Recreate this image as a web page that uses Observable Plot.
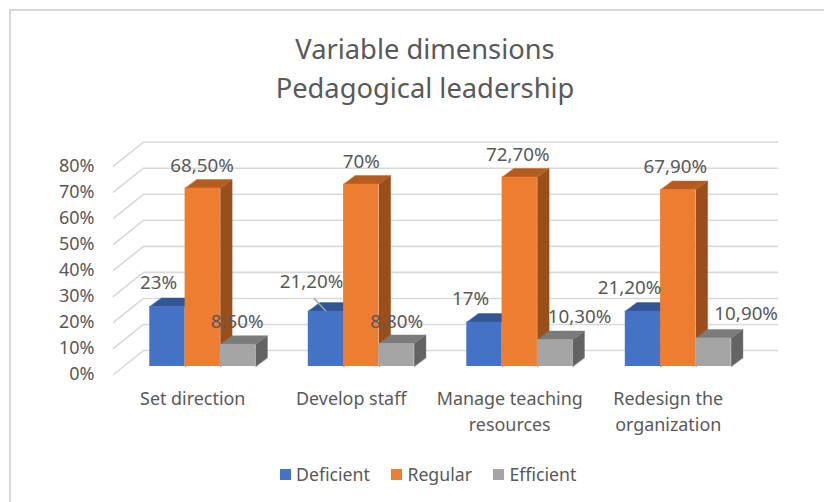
<!DOCTYPE html>
<html><head><meta charset="utf-8">
<script src="https://cdn.jsdelivr.net/npm/d3@7"></script>
<script src="https://cdn.jsdelivr.net/npm/@observablehq/plot@0.6"></script>
<style>
html,body{margin:0;padding:0;background:#fff;width:824px;height:502px;overflow:hidden}
body{font-family:"Noto Sans",sans-serif;color:#595959;position:relative}
#frame{position:absolute;left:9px;top:9px;right:0;bottom:0;border-top:2px solid #d9d9d9;border-left:2px solid #d9d9d9}
#title{position:absolute;left:0;width:850px;top:29px;text-align:center;font-size:27.3px;line-height:39px;font-weight:400;margin:0}
#chart{position:absolute;left:0;top:110px}
#chart svg{display:block;overflow:visible}
#legend{position:absolute;left:280px;top:462px;display:flex;align-items:center;font-size:17.7px;line-height:24px;white-space:nowrap}
#legend i{display:inline-block;width:11px;height:11px;margin-right:5px}
#legend span{display:flex;align-items:center;margin-right:21.5px}
</style></head><body>
<div id="frame"></div>
<h1 id="title">Variable dimensions<br>Pedagogical leadership</h1>
<div id="chart"></div>
<div id="legend"></div>
<script>
const categories = ["Set direction", "Develop staff", "Manage teaching\nresources", "Redesign the\norganization"];
const seriesNames = ["Deficient", "Regular", "Efficient"];
const deficient = [23, 21.2, 17, 21.2];
const regular = [68.5, 70, 72.7, 67.9];
const efficient = [8.5, 8.8, 10.3, 10.9];
const yTicks = [0, 10, 20, 30, 40, 50, 60, 70, 80];

// styles
const front = ["#4472C4", "#ED7D31", "#A5A5A5"];
const topFace = ["#335593", "#B55D20", "#7B7B7B"];
const sideFace = ["#2B4A80", "#9A4F1B", "#636363"];
const grid = "#d9d9d9", ink = "#595959";
const font = '"Noto Sans",sans-serif';

// layout (pixel nudges of the hand-placed data labels, per series per category)
const nudges = [
  [[-9, -24], [-14.5, -29], [-14, -23], [-13.5, -23]],
  [[-0.6, -22.6], [0, -22], [-2, -22.7], [-3, -22.5]],
  [[-1, -22], [0, -22], [24.4, -22.5], [32.6, -24.6]]
];
// oblique projection, in data units (x: categories, y: percent)
const wallDX = 0.189, wallDY = 9.216;       // floor depth of the back wall
const barZ = 3.07;                           // bar base lift over the front floor edge
const barStart = 0.229, barW = 0.2228;
const depthDX = 0.0738, depthDY = 3.34;      // bar depth

const series = [deficient, regular, efficient];
const fmt = v => Number.isInteger(v) ? v + "%" : v.toFixed(2).replace(".", ",") + "%";

const marks = [];
// gridlines on back and side walls
for (const t of yTicks) {
  marks.push(Plot.line([{x: 0, y: t}, {x: wallDX, y: t + wallDY}, {x: categories.length + wallDX, y: t + wallDY}],
    {x: "x", y: "y", stroke: grid, strokeWidth: 1.6}));
}
// bars: painter's order per category
categories.forEach((c, g) => {
  series.forEach((vals, s) => {
    const v = vals[g];
    const x1 = g + barStart + s * barW, x2 = x1 + barW, y1 = barZ, y2 = v + barZ;
    const side = [{x: x2, y: y1}, {x: x2, y: y2}, {x: x2 + depthDX, y: y2 + depthDY}, {x: x2 + depthDX, y: y1 + depthDY}];
    const top = [{x: x1, y: y2}, {x: x2, y: y2}, {x: x2 + depthDX, y: y2 + depthDY}, {x: x1 + depthDX, y: y2 + depthDY}];
    const poly = (pts, col) => Plot.line(pts, {x: "x", y: "y", curve: "linear-closed", fill: col, stroke: col, strokeWidth: 0.4});
    marks.push(poly(side, sideFace[s]), poly(top, topFace[s]));
    marks.push(Plot.rect([{x1, x2, y1, y2}], {x1: "x1", x2: "x2", y1: "y1", y2: "y2", fill: front[s]}));
  });
});
// leader line of the second category's Deficient label
{
  const g = 1, v = deficient[g];
  const x = g + barStart + barW / 2;
  marks.push(Plot.link([{x1: x - 0.076, y1: v + barZ + 5, x2: x, y2: v + barZ}],
    {x1: "x1", y1: "y1", x2: "x2", y2: "y2", stroke: "#a6a6a6", strokeWidth: 1.5}));
}
// data labels
series.forEach((vals, s) => vals.forEach((v, g) => {
  const [dx, dy] = nudges[s][g];
  marks.push(Plot.text([{x: g + barStart + (s + 0.5) * barW, y: v + barZ, t: fmt(v)}],
    {x: "x", y: "y", text: "t", dx, dy, fill: ink, fontSize: 18.8, fontFamily: font, stroke: "none"}));
}));
// axes
marks.push(Plot.axisY(yTicks, {anchor: "left", tickSize: 0, tickPadding: 19, tickFormat: d => d + "%", fontSize: 18, fontFamily: font, fill: ink, label: null}));
marks.push(Plot.axisX(categories.map((c, i) => i + 0.5), {anchor: "bottom", tickSize: 0, tickPadding: 12, tickFormat: d => categories[d - 0.5], fontSize: 17.9, fontFamily: font, fill: ink, label: null, lineHeight: 1.45}));

const chart = Plot.plot({
  width: 824, height: 345,
  marginLeft: 113, marginRight: 77, marginTop: 55.7, marginBottom: 81,
  x: {domain: [0, categories.length], type: "linear"},
  y: {domain: [0, 80], type: "linear"},
  style: {background: "transparent", overflow: "visible"},
  marks
});
document.getElementById("chart").append(chart);

const lg = document.getElementById("legend");
seriesNames.forEach((n, i) => {
  const sp = document.createElement("span");
  const sw = document.createElement("i"); sw.style.background = front[i];
  sp.append(sw, n); lg.append(sp);
});
</script>
</body></html>
